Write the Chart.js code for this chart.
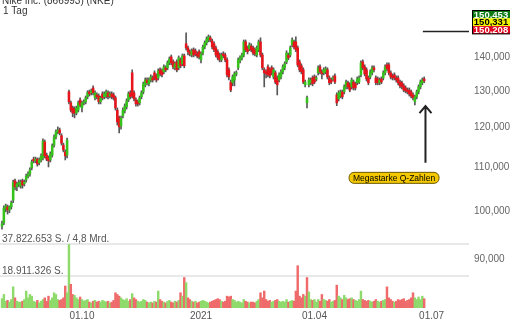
<!DOCTYPE html>
<html>
<head>
<meta charset="utf-8">
<script src="https://cdn.jsdelivr.net/npm/chart.js@4.4.0/dist/chart.umd.min.js"></script>
<style>
  html, body { margin: 0; padding: 0; background: #fff; }
</style>
</head>
<body>
<canvas id="nke" width="510" height="320"></canvas>
<script>
// daily candles, Aug 2020 - Jun 2021 (prices)
const open = [
  96.7, 97.4, 100.6, 100.9, 100.2, 100.9, 102.4, 106.8, 105.4, 106.1,
  105.6, 106.8, 106.1, 107.0, 107.9, 108.4, 109.9, 112.0, 111.6, 112.0,
  111.1, 111.8, 112.3, 116.3, 113.0, 112.3, 111.8, 113.0, 115.5, 117.6,
  118.9, 119.4, 117.9, 115.5, 113.8, 113.0, 129.8, 126.7, 125.3, 125.0,
  123.9, 124.7, 127.5, 125.3, 126.7, 127.0, 128.4, 129.8, 129.5, 130.9,
  128.1, 128.9, 128.6, 127.0, 129.2, 128.4, 128.6, 129.5, 128.6, 129.2,
  128.9, 128.1, 124.7, 122.6, 120.4, 123.1, 124.5, 125.6, 127.5, 129.5,
  135.3, 129.5, 127.5, 127.0, 126.7, 128.4, 129.8, 131.8, 133.2, 132.1,
  133.2, 133.8, 135.3, 134.4, 133.8, 136.2, 135.9, 135.6, 136.8, 136.8,
  138.3, 140.1, 138.6, 136.8, 138.6, 136.8, 139.2, 138.0, 140.4, 144.2,
  142.9, 141.7, 140.7, 142.3, 142.0, 141.0, 141.7, 139.2, 141.3, 143.2,
  144.5, 145.4, 146.1, 145.1, 144.2, 142.9, 141.7, 140.7, 139.2, 141.0,
  140.7, 139.2, 136.2, 132.6, 132.4, 133.2, 135.0, 136.8, 138.9, 139.8,
  140.7, 144.8, 142.9, 142.6, 143.5, 142.9, 142.3, 140.7, 142.3, 144.8,
  140.7, 136.2, 135.6, 137.1, 136.2, 136.8, 134.1, 135.3, 133.8, 133.2,
  134.1, 135.6, 136.8, 138.6, 140.7, 140.7, 143.8, 144.8, 144.8, 142.9,
  138.6, 137.4, 136.2, 131.8, 126.7, 131.8, 132.4, 133.8, 134.1, 133.5,
  135.3, 137.1, 135.6, 135.3, 135.6, 136.2, 133.8, 133.2, 133.5, 134.4,
  128.9, 127.8, 128.6, 129.8, 129.8, 131.2, 132.4, 131.8, 131.2, 132.6,
  132.1, 132.4, 132.6, 134.7, 138.6, 137.1, 136.2, 133.8, 134.1, 135.3,
  136.8, 133.8, 133.5, 132.4, 133.5, 133.8, 135.3, 137.7, 137.7, 135.3,
  134.4, 134.7, 133.8, 133.8, 132.6, 132.4, 131.5, 130.9, 130.3, 130.3,
  129.8, 128.9, 127.0, 128.4, 129.8, 131.2, 132.4, 133.5
];
const high = [
  97.8, 101.1, 101.5, 101.3, 101.1, 102.2, 107.0, 107.2, 106.5, 107.0,
  107.0, 107.2, 107.0, 108.4, 108.9, 109.9, 111.8, 112.5, 112.5, 112.3,
  112.3, 113.3, 117.1, 116.8, 113.5, 112.8, 113.8, 115.8, 118.1, 119.4,
  120.2, 119.9, 118.4, 116.0, 114.3, 117.3, 130.3, 127.2, 125.8, 125.6,
  125.8, 127.2, 128.1, 127.2, 127.5, 128.6, 130.1, 130.3, 130.6, 131.5,
  130.1, 129.5, 129.2, 128.6, 129.8, 129.8, 130.3, 130.1, 129.8, 129.8,
  129.5, 128.6, 125.3, 123.1, 123.1, 125.3, 126.4, 127.8, 129.8, 130.1,
  136.2, 130.1, 128.1, 127.5, 128.6, 130.1, 132.6, 133.8, 133.8, 133.8,
  134.7, 134.4, 135.9, 135.0, 136.5, 136.8, 136.5, 137.7, 137.4, 138.9,
  140.1, 140.7, 139.2, 138.6, 139.2, 140.4, 139.8, 141.0, 141.0, 147.7,
  143.5, 142.3, 142.6, 142.9, 142.6, 141.7, 142.3, 141.7, 143.8, 145.1,
  146.4, 147.0, 146.7, 145.7, 144.8, 143.5, 142.3, 141.3, 141.3, 141.7,
  141.3, 139.8, 136.8, 133.2, 134.7, 135.6, 135.9, 139.8, 140.4, 141.3,
  145.4, 145.4, 143.5, 144.5, 144.2, 143.5, 142.9, 143.5, 145.4, 146.1,
  141.3, 136.8, 136.2, 137.7, 136.8, 137.4, 136.8, 135.9, 134.4, 135.3,
  136.2, 137.7, 138.6, 142.0, 141.3, 143.5, 146.1, 145.4, 146.4, 143.5,
  139.2, 138.0, 136.8, 133.2, 128.6, 133.8, 133.8, 134.4, 134.7, 134.4,
  137.4, 137.7, 136.2, 136.8, 137.1, 136.8, 134.4, 133.8, 134.4, 135.0,
  129.5, 130.1, 130.3, 130.3, 131.8, 133.2, 132.9, 132.4, 133.8, 133.2,
  132.6, 134.1, 134.4, 138.9, 139.2, 137.7, 136.8, 134.4, 136.2, 137.4,
  137.4, 134.4, 134.1, 133.8, 134.1, 135.9, 137.7, 138.3, 138.3, 135.9,
  135.0, 135.3, 134.4, 134.4, 133.2, 132.9, 132.1, 131.5, 130.9, 130.9,
  130.3, 129.5, 128.9, 130.3, 131.8, 133.2, 133.8, 134.1
];
const low = [
  96.1, 97.0, 99.8, 99.3, 99.6, 100.4, 101.8, 104.7, 104.5, 105.4,
  105.1, 105.1, 105.6, 106.5, 107.5, 107.9, 109.4, 111.1, 111.1, 110.3,
  110.6, 111.3, 111.8, 112.3, 111.6, 110.1, 111.3, 112.5, 115.0, 117.1,
  118.4, 118.1, 115.5, 113.8, 111.8, 112.3, 126.4, 124.2, 122.9, 122.6,
  123.4, 124.2, 125.6, 124.2, 126.1, 126.4, 127.8, 128.6, 128.9, 128.9,
  127.5, 127.8, 126.4, 126.4, 127.5, 127.8, 128.1, 127.8, 128.1, 127.8,
  127.5, 124.7, 120.7, 118.6, 119.6, 122.6, 123.9, 125.0, 127.0, 127.8,
  128.1, 127.2, 125.8, 125.8, 126.1, 127.8, 129.2, 131.2, 131.8, 131.5,
  132.6, 132.6, 133.2, 132.6, 133.2, 134.4, 134.1, 135.0, 135.6, 136.2,
  137.7, 137.7, 136.5, 136.2, 135.6, 136.2, 136.8, 137.4, 136.8, 142.3,
  140.7, 140.4, 140.1, 140.1, 140.4, 139.8, 139.5, 138.3, 140.7, 142.6,
  143.8, 144.8, 144.8, 142.6, 141.7, 140.1, 139.2, 138.6, 138.6, 139.8,
  138.6, 134.1, 133.2, 129.8, 131.5, 131.5, 134.4, 136.2, 138.3, 139.2,
  140.1, 141.7, 141.0, 142.0, 141.7, 140.7, 140.4, 140.1, 141.7, 140.1,
  136.2, 131.2, 133.8, 134.1, 133.8, 134.7, 133.5, 132.1, 128.9, 132.6,
  133.5, 135.0, 136.2, 138.0, 139.2, 140.1, 143.2, 142.6, 141.7, 137.1,
  135.6, 135.0, 132.1, 131.2, 125.3, 131.2, 131.8, 131.5, 132.1, 132.9,
  134.7, 135.0, 133.5, 134.7, 135.0, 133.5, 131.8, 132.1, 132.9, 132.1,
  125.9, 127.2, 128.1, 127.8, 129.2, 130.6, 130.6, 129.8, 130.6, 130.3,
  130.3, 131.8, 132.1, 134.1, 136.2, 134.4, 132.9, 131.8, 133.5, 134.7,
  135.6, 131.8, 131.8, 131.8, 132.1, 133.2, 134.7, 135.9, 134.7, 133.5,
  133.2, 133.2, 132.6, 131.8, 130.9, 130.6, 129.8, 129.5, 129.2, 128.6,
  128.1, 127.5, 126.1, 127.8, 129.2, 130.6, 131.8, 132.4
];
const close = [
  97.2, 100.6, 101.1, 100.2, 100.9, 101.8, 106.5, 105.4, 106.1, 106.3,
  106.5, 105.8, 106.5, 107.9, 108.4, 109.4, 111.3, 111.6, 112.0, 110.8,
  111.8, 112.8, 116.5, 112.8, 112.0, 111.6, 113.3, 115.3, 117.6, 118.9,
  119.4, 118.6, 116.0, 114.3, 112.8, 116.8, 127.0, 124.7, 123.9, 123.9,
  125.3, 126.7, 126.1, 126.7, 127.0, 128.1, 129.5, 129.2, 130.1, 129.5,
  129.5, 128.4, 127.0, 128.1, 128.1, 129.2, 129.8, 128.4, 129.2, 128.4,
  128.1, 125.3, 121.5, 120.2, 122.6, 124.7, 125.8, 127.2, 129.2, 128.4,
  128.6, 127.8, 126.4, 126.4, 128.1, 129.5, 132.1, 133.2, 132.4, 133.2,
  134.1, 133.2, 133.8, 133.2, 135.9, 135.0, 134.7, 137.1, 136.2, 138.3,
  139.5, 138.3, 137.1, 138.0, 136.2, 139.8, 137.4, 140.4, 137.4, 142.9,
  141.7, 141.0, 142.0, 140.7, 141.0, 140.4, 140.1, 141.0, 143.2, 144.5,
  145.7, 146.4, 145.4, 143.2, 142.3, 140.7, 139.8, 139.2, 140.7, 140.4,
  139.2, 134.7, 134.1, 130.3, 134.1, 135.0, 135.3, 139.2, 139.8, 140.7,
  144.8, 142.3, 141.7, 143.8, 142.3, 141.3, 141.0, 142.9, 144.8, 140.7,
  136.8, 135.3, 135.0, 134.7, 134.4, 135.3, 136.2, 132.6, 131.8, 134.7,
  135.6, 137.1, 138.0, 141.3, 139.8, 142.9, 145.4, 143.2, 142.3, 137.7,
  136.2, 135.6, 132.6, 132.6, 128.1, 133.2, 133.2, 132.1, 132.6, 133.8,
  136.8, 135.6, 135.0, 136.2, 136.5, 134.1, 132.4, 132.6, 133.8, 132.6,
  126.7, 129.5, 129.8, 128.4, 131.2, 132.6, 131.2, 130.3, 133.2, 130.9,
  130.9, 133.5, 133.8, 138.3, 136.8, 135.0, 133.5, 132.4, 135.6, 136.8,
  136.2, 132.4, 132.4, 133.2, 132.6, 135.3, 137.1, 136.5, 135.3, 134.1,
  133.8, 133.8, 133.2, 132.4, 131.5, 131.2, 130.3, 130.1, 129.8, 129.2,
  128.6, 128.1, 128.4, 129.8, 131.2, 132.6, 133.2, 132.9
];
// volume in millions of shares
const volume = [
  5.5, 8, 4, 4.5, 3.5, 5, 12.5, 6, 4, 3.5,
  3.5, 4, 5, 10, 6, 8, 7, 4, 3.5, 4.5,
  3, 4, 5, 6, 4, 7, 4.5, 6, 9, 8,
  5, 4.5, 5, 6, 13, 9, 37.5, 14, 8, 7.5,
  6, 5, 6.5, 5, 4, 4.5, 5, 3.5, 3, 4,
  4.5, 3.5, 4, 3.5, 4.5, 4, 3.5, 4, 3, 3.5,
  4.5, 9, 8, 7, 6, 5, 4.5, 5.5, 4, 5,
  8.5, 6, 5, 4, 3.5, 4, 5, 4.5, 3.5, 3,
  3.5, 3, 4, 3.5, 10, 5, 4, 3.5, 3, 4,
  4.5, 3.5, 3, 4, 3.5, 4.5, 9, 7, 18, 15,
  6, 5, 4, 3.5, 4, 3, 3.5, 4, 4.5, 4,
  3.5, 3, 3.5, 4, 4.5, 5, 5.5, 5, 4, 3.5,
  4, 7, 6.5, 7, 5, 4.5, 3.5, 4, 3.5, 3,
  5, 4, 3.5, 3, 3.5, 3.5, 3, 4, 5, 9,
  6, 10, 5, 4, 4.5, 3.5, 4, 4.5, 5, 4,
  3.5, 4, 3.5, 5, 3.5, 4, 4.5, 4, 10, 25,
  7, 6, 8, 7, 18, 9.5, 5, 4.5, 5, 3.5,
  5, 4, 8, 5, 4.5, 4, 5, 3.5, 4, 4.5,
  13.5, 7, 6, 5, 7.5, 6, 5, 5.5, 6, 5,
  4.5, 4, 5, 10, 5, 4.5, 4, 4.5, 4, 3.5,
  4, 5, 4, 3.5, 4, 4.5, 5, 12.5, 6, 5,
  4, 3.5, 4, 5, 4.5, 5, 5.5, 4, 4.5, 5,
  6, 9, 6, 5, 6.5, 5, 7, 5.5
];

const tickIdx = [43, 107, 168, 231];
const tickLabels = ['01.10', '2021', '01.04', '01.07'];
const priceTicks = [90, 100, 110, 120, 130, 140];
const volGrid = [18.911326, 37.822653];
const volGridLabels = ['18.911.326 S.', '37.822.653 S. / 4,8 Mrd.'];
const quotes = [150.453, 150.331, 150.208];
const markLevel = 148.4;

const GREEN = '#35c21a', RED = '#e8141c';
const VGREEN = '#8edb6c', VRED = '#ef6b6b';

Chart.defaults.font.family = '"Liberation Sans", Arial, sans-serif';
Chart.defaults.font.size = 10;

const idx = close.map((c, i) => i);
const candleUp = idx.map(i => close[i] >= open[i]);
const volUp = idx.map(i => close[i] >= (i ? close[i - 1] : open[i]));

const fmt = v => v.toFixed(3).replace('.', ',');

// no label overhang padding, so the plot fills the canvas top to bottom
function noPad(s) {
  s.paddingTop = 0;
  s.paddingBottom = 0;
  s.paddingLeft = 0;
  s.paddingRight = 0;
}

const overlay = {
  id: 'overlay',
  beforeDatasetsDraw(chart) {
    const { ctx, chartArea: a, scales } = chart;
    ctx.save();
    volGrid.forEach((v, k) => {
      const py = Math.round(scales.vol.getPixelForValue(v));
      ctx.strokeStyle = '#e8e8e8';
      ctx.lineWidth = 2;
      ctx.beginPath();
      ctx.moveTo(a.left, py);
      ctx.lineTo(a.right, py);
      ctx.stroke();
      ctx.fillStyle = '#555';
      ctx.font = '10px "Liberation Sans", Arial';
      ctx.textBaseline = 'alphabetic';
      ctx.fillText(volGridLabels[k], a.left + 2, py - 2);
    });
    ctx.restore();
  },
  afterDraw(chart) {
    const { ctx, chartArea: a, scales: { x, y } } = chart;
    ctx.save();

    // title
    ctx.fillStyle = '#333';
    ctx.font = '10px "Liberation Sans", Arial';
    ctx.textBaseline = 'alphabetic';
    ctx.fillText('Nike Inc. (866993) (NKE)', 2, 4);
    ctx.fillText('1 Tag', 3, 14);

    // level line
    const ly = Math.round(y.getPixelForValue(markLevel)) + 0.5;
    ctx.strokeStyle = '#222';
    ctx.lineWidth = 1.5;
    ctx.beginPath();
    ctx.moveTo(x.getPixelForValue(226.3), ly);
    ctx.lineTo(a.right, ly);
    ctx.stroke();

    // quote boxes
    const bx = a.right + 3, bw = 510 - bx, bh = 7.8;
    const fills = ['#0b7a12', '#f4f400', '#e0001c'];
    const inks = ['#fff', '#000', '#fff'];
    ctx.font = 'bold 9.5px "Liberation Sans", Arial';
    ctx.textAlign = 'center';
    ctx.textBaseline = 'middle';
    quotes.forEach((q, k) => {
      const by = 10.5 + k * bh;
      ctx.fillStyle = fills[k];
      ctx.fillRect(bx, by, bw, bh);
      ctx.fillStyle = inks[k];
      ctx.fillText(fmt(q), bx + bw / 2, by + bh / 2 + 0.5);
    });
    ctx.strokeStyle = '#000';
    ctx.lineWidth = 1;
    ctx.strokeRect(bx + 0.5, 10.5, bw, bh * 3);

    // arrow
    const ax = x.getPixelForValue(227.7);
    const tipY = y.getPixelForValue(125.8), tailY = y.getPixelForValue(111.1);
    ctx.strokeStyle = '#222';
    ctx.lineWidth = 2;
    ctx.beginPath();
    ctx.moveTo(ax, tailY);
    ctx.lineTo(ax, tipY);
    ctx.moveTo(ax - 6, tipY + 7);
    ctx.lineTo(ax, tipY);
    ctx.lineTo(ax + 6, tipY + 7);
    ctx.stroke();

    // note label
    const cx = x.getPixelForValue(210.8), cy = y.getPixelForValue(107.5);
    const w = 90, h = 11;
    ctx.beginPath();
    ctx.roundRect(cx - w / 2, cy - h / 2, w, h, 5);
    ctx.fillStyle = '#f3c800';
    ctx.fill();
    ctx.strokeStyle = '#6e5a00';
    ctx.lineWidth = 1;
    ctx.stroke();
    ctx.fillStyle = '#000';
    ctx.font = '8.5px "Liberation Sans", Arial';
    ctx.textAlign = 'center';
    ctx.textBaseline = 'middle';
    ctx.fillText('Megastarke Q-Zahlen', cx, cy + 0.5);

    ctx.restore();
  }
};

new Chart('nke', {
  type: 'bar',
  data: {
    datasets: [
      {
        data: idx.map(i => ({ x: i, y: [open[i], close[i]] })),
        backgroundColor: idx.map(i => candleUp[i] ? GREEN : RED),
        barThickness: 1.9,
        minBarLength: 1,
        grouped: false,
        order: 1,
        yAxisID: 'y'
      },
      {
        data: idx.map(i => ({ x: i, y: [low[i], high[i]] })),
        backgroundColor: 'rgba(45,45,45,0.8)',
        barThickness: 1,
        grouped: false,
        order: 2,
        yAxisID: 'y'
      },
      {
        data: idx.map(i => ({ x: i, y: volume[i] })),
        backgroundColor: idx.map(i => volUp[i] ? VGREEN : VRED),
        barThickness: 1.8,
        grouped: false,
        order: 3,
        yAxisID: 'vol'
      }
    ]
  },
  options: {
    responsive: false,
    animation: false,
    devicePixelRatio: 1,
    layout: { padding: 0 },
    plugins: { legend: { display: false }, tooltip: { enabled: false } },
    scales: {
      x: {
        type: 'linear',
        min: -1.075,
        max: 251.1,
        offset: false,
        grid: { display: false, drawTicks: false },
        border: { display: false },
        afterBuildTicks: s => { s.ticks = tickIdx.map(v => ({ value: v })); },
        afterFit: s => { s.height = 12; noPad(s); },
        ticks: {
          autoSkip: false,
          maxRotation: 0,
          padding: 2,
          color: '#555',
          callback: v => tickLabels[tickIdx.indexOf(v)]
        }
      },
      y: {
        type: 'logarithmic',
        position: 'right',
        min: 80.84,
        max: 158.7,
        grid: { display: false, drawTicks: false },
        border: { display: false },
        afterBuildTicks: s => { s.ticks = priceTicks.map(v => ({ value: v })); },
        afterFit: s => { s.width = 41; noPad(s); },
        ticks: { padding: 5, color: '#666', callback: v => fmt(v) }
      },
      vol: {
        type: 'linear',
        display: false,
        min: 0,
        max: 182
      }
    }
  },
  plugins: [overlay]
});
</script>
</body>
</html>
